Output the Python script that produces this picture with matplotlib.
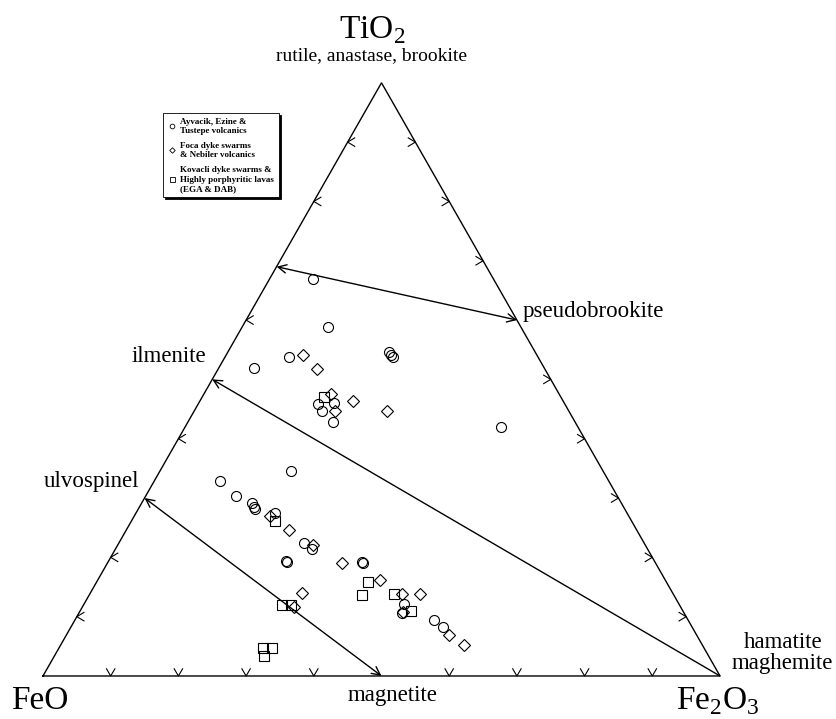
import numpy as np
import matplotlib
matplotlib.use("Agg")
import matplotlib.pyplot as plt
from matplotlib.lines import Line2D

plt.rcParams['font.family'] = ['Liberation Serif', 'DejaVu Serif']
plt.rcParams['mathtext.fontset'] = 'custom'
plt.rcParams['mathtext.rm'] = 'Liberation Serif'

# ---- compositions (%): TiO2, FeO, Fe2O3 ----
# Ayvacik, Ezine & Tustepe volcanics (circles)
ayv_tio2 = [66.9, 58.8, 53.7, 52.0, 54.7, 54.1, 53.7, 46.1, 45.9, 44.7, 42.8, 41.9,
            34.6, 32.9, 30.4, 29.2, 28.5, 28.1, 27.4, 22.4, 21.4, 19.4, 19.2, 19.2,
            19.0, 12.1, 10.6, 9.4, 8.3]
ayv_fe2o3 = [6.5, 12.7, 9.5, 5.1, 23.7, 24.3, 24.8, 19.9, 17.6, 18.9, 21.5, 46.7,
             19.4, 9.7, 13.3, 16.2, 16.9, 17.3, 20.5, 27.3, 29.0, 26.2, 26.4, 37.5,
             37.7, 47.3, 47.8, 53.1, 55.0]

# Foca dyke swarms & Nebiler volcanics (diamonds)
foca_tio2 = [54.1, 51.8, 47.5, 44.7, 46.3, 44.7, 26.9, 24.6, 22.1, 19.0, 16.1, 14.0,
             11.6, 13.8, 13.9, 10.8, 6.9, 5.3]
foca_fe2o3 = [11.3, 14.6, 18.8, 20.8, 22.7, 28.5, 20.1, 24.0, 28.8, 34.6, 41.8, 31.2,
              31.3, 46.1, 48.7, 47.8, 56.5, 59.5]

# Kovacli dyke swarms & highly porphyritic lavas (squares)
kov_tio2 = [47.1, 26.2, 15.9, 13.7, 11.9, 12.0, 13.8, 11.0, 4.8, 4.8, 3.4]
kov_fe2o3 = [17.9, 21.1, 40.0, 40.2, 29.4, 30.7, 45.0, 48.8, 30.1, 31.4, 31.0]

ayv_feo = [100 - a - b for a, b in zip(ayv_tio2, ayv_fe2o3)]
foca_feo = [100 - a - b for a, b in zip(foca_tio2, foca_fe2o3)]
kov_feo = [100 - a - b for a, b in zip(kov_tio2, kov_fe2o3)]

legend_labels = ["Ayvacik, Ezine &\nTustepe volcanics",
                 "Foca dyke swarms\n& Nebiler volcanics",
                 "Kovacli dyke swarms &\nHighly porphyritic lavas\n(EGA & DAB)"]

# mineral end-members (TiO2, FeO, Fe2O3)
ulvospinel = (30, 70, 0)
magnetite = (0, 50, 50)
ilmenite = (50, 50, 0)
hematite = (0, 0, 100)
ferropseudobrookite = (69, 31, 0)
pseudobrookite = (60, 0, 40)

tick_values = [10, 20, 30, 40, 50, 60, 70, 80, 90]

H = np.sqrt(3) / 2


def tern(ti, feo, fe3):
    ti, feo, fe3 = (np.asarray(v, dtype=float) for v in (ti, feo, fe3))
    s = ti + feo + fe3
    return (fe3 + ti / 2) / s, ti / s * H


W, Hpx = 837, 719
fig = plt.figure(figsize=(W / 100, Hpx / 100), dpi=100)
ax = fig.add_axes([0, 0, 1, 1])
ax.set_xlim(-0.0635, 1.1728)
ax.set_ylim(-0.0628, 0.9869)
ax.axis('off')

lw = 1.0
# triangle frame
fx, fy = tern([0, 0, 100, 0], [100, 0, 0, 100], [0, 100, 0, 0])
ax.plot(fx, fy, color='black', lw=lw, solid_joinstyle='miter', zorder=2)

# chevron ticks on the three edges
ax_ = 0.0062   # half opening
al_ = 0.0105   # arm length
skip_bottom, skip_left, skip_right = {50}, {30, 50, 70}, {60}
for v in tick_values:
    if v not in skip_bottom:
        x, y = tern(0, 100 - v, v)
        ax.plot([x - ax_, x, x + ax_], [y + al_, y, y + al_], color='black', lw=0.8)
    if v not in skip_left:
        x, y = tern(v, 100 - v, 0)
        ax.plot([x + al_, x, x + al_], [y + ax_, y, y - ax_], color='black', lw=0.8)
    if v not in skip_right:
        x, y = tern(v, 0, 100 - v)
        ax.plot([x - al_, x, x - al_], [y + ax_, y, y - ax_], color='black', lw=0.8)

# tie lines
def tie(a, b, style):
    xa, ya = tern(*a)
    xb, yb = tern(*b)
    ax.annotate('', xy=(float(xb), float(yb)), xytext=(float(xa), float(ya)),
                arrowprops=dict(arrowstyle=style + ',head_length=0.6,head_width=0.3',
                                color='black', lw=lw, shrinkA=0, shrinkB=0))

tie(ferropseudobrookite, pseudobrookite, '<->')
tie(ilmenite, hematite, '<-')
tie(ulvospinel, magnetite, '<->')

# samples
mk = dict(linestyle='none', markerfacecolor='none', markeredgecolor='black',
          markeredgewidth=0.8, zorder=3)
x, y = tern(ayv_tio2, ayv_feo, ayv_fe2o3)
ax.plot(x, y, marker='o', markersize=7.2, **mk)
x, y = tern(foca_tio2, foca_feo, foca_fe2o3)
ax.plot(x, y, marker='D', markersize=5.8, **mk)
x, y = tern(kov_tio2, kov_feo, kov_fe2o3)
ax.plot(x, y, marker='s', markersize=7.0, **mk)

# legend
hmk = dict(linestyle='none', markerfacecolor='none', markeredgecolor='black',
           markeredgewidth=0.6)
handles = [Line2D([], [], marker='o', markersize=3.4, **hmk),
           Line2D([], [], marker='D', markersize=2.8, **hmk),
           Line2D([], [], marker='s', markersize=3.6, **hmk)]
leg = ax.legend(handles, legend_labels, loc='upper left',
                bbox_to_anchor=(163 / W, 1 - 113 / Hpx), bbox_transform=fig.transFigure,
                prop=dict(family='Liberation Serif', weight='bold', size=6.5),
                frameon=True, fancybox=False, edgecolor='black', framealpha=1,
                shadow={'ox': 1.6, 'oy': -1.6, 'color': 'black', 'alpha': 1},
                handlelength=0.9, handletextpad=0.5, borderpad=0.5,
                labelspacing=0.8, borderaxespad=0)
leg.get_frame().set_linewidth(0.6)


def px(xp, yp):
    return xp / W, 1 - yp / Hpx


big = 24
mid = 16.5
fig.text(*px(372, 30), 'TiO$_2$', fontsize=big, ha='center', va='center')
fig.text(*px(372, 56), 'rutile, anastase, brookite', fontsize=14, ha='center', va='center')
fig.text(*px(523, 312), 'pseudobrookite', fontsize=mid, ha='left', va='center')
fig.text(*px(206, 357), 'ilmenite', fontsize=mid, ha='right', va='center')
fig.text(*px(139, 482), 'ulvospinel', fontsize=mid, ha='right', va='center')
fig.text(*px(783, 643), 'hamatite', fontsize=mid, ha='center', va='center')
fig.text(*px(782, 664), 'maghemite', fontsize=mid, ha='center', va='center')
fig.text(*px(393, 695), 'magnetite', fontsize=mid, ha='center', va='center')
fig.text(*px(40, 701), 'FeO', fontsize=big, ha='center', va='center')
fig.text(*px(718, 701), 'Fe$_2$O$_3$', fontsize=big, ha='center', va='center')

fig.savefig('out.png', dpi=100)
